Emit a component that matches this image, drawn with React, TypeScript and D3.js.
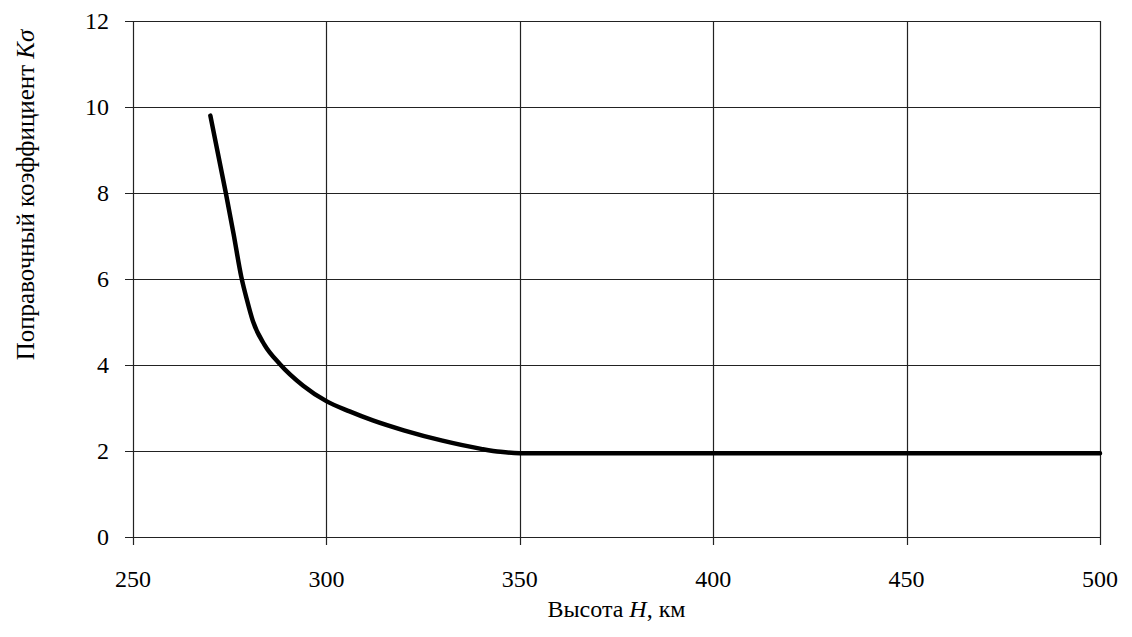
import React, { useEffect, useRef } from "react"
import * as d3 from "d3"

// высота, км
const heights = [270, 274, 276, 278, 279.5, 281, 284, 288, 294, 300, 306, 312, 320, 330, 340, 345, 350, 400, 450, 500]
// поправочный коэффициент
const coefs = [9.8, 8.0, 7.05, 6.05, 5.5, 5.02, 4.47, 4.02, 3.52, 3.16, 2.92, 2.71, 2.48, 2.24, 2.05, 1.98, 1.95, 1.95, 1.95, 1.95]

const xTicks = [250, 300, 350, 400, 450, 500]
const yTicks = [0, 2, 4, 6, 8, 10, 12]

export default function App() {
    const svgRef = useRef<SVGSVGElement>(null)

    useEffect(() => {
        const width = 1132
        const height = 637
        const margin = { top: 21, left: 133 }
        const innerWidth = 1100 - margin.left
        const innerHeight = 537 - margin.top

        const svg = d3.select(svgRef.current)
        svg.selectAll("*").remove()
        svg.attr("width", width).attr("height", height)

        const g = svg.append("g").attr("transform", `translate(${margin.left},${margin.top})`)

        const x = d3.scaleLinear().domain([250, 500]).range([0, innerWidth])
        const y = d3.scaleLinear().domain([0, 12]).range([innerHeight, 0])

        // сетка
        g.selectAll(".hgrid")
            .data(yTicks)
            .join("line")
            .attr("x1", -8)
            .attr("x2", innerWidth)
            .attr("y1", (d) => Math.round(y(d)) + 0.5)
            .attr("y2", (d) => Math.round(y(d)) + 0.5)
            .attr("stroke", "#222")
            .attr("stroke-width", 1.2)

        g.selectAll(".vgrid")
            .data(xTicks)
            .join("line")
            .attr("x1", (d) => Math.round(x(d)) + 0.5)
            .attr("x2", (d) => Math.round(x(d)) + 0.5)
            .attr("y1", 0)
            .attr("y2", innerHeight + 8)
            .attr("stroke", "#222")
            .attr("stroke-width", 1.2)

        const font = "'Liberation Serif', 'DejaVu Serif', 'Times New Roman', serif"

        g.selectAll(".ylab")
            .data(yTicks)
            .join("text")
            .attr("x", -24)
            .attr("y", (d) => y(d))
            .attr("dy", "0.35em")
            .attr("text-anchor", "end")
            .style("font-family", font)
            .style("font-size", "24px")
            .text((d) => d)

        g.selectAll(".xlab")
            .data(xTicks)
            .join("text")
            .attr("x", (d) => x(d))
            .attr("y", innerHeight + 50)
            .attr("text-anchor", "middle")
            .style("font-family", font)
            .style("font-size", "24px")
            .text((d) => d)

        const line = d3
            .line<number>()
            .x((d, i) => x(heights[i]))
            .y((d) => y(d))
            .curve(d3.curveMonotoneX)

        g.append("path")
            .datum(coefs)
            .attr("d", line)
            .attr("fill", "none")
            .attr("stroke", "#000")
            .attr("stroke-width", 4.5)
            .attr("stroke-linecap", "round")

        const xt = svg
            .append("text")
            .attr("x", margin.left + innerWidth / 2)
            .attr("y", 617)
            .attr("text-anchor", "middle")
            .style("font-family", font)
            .style("font-size", "24px")
        xt.append("tspan").text("Высота ")
        xt.append("tspan").style("font-style", "italic").text("H")
        xt.append("tspan").text(", км")

        const yt = svg
            .append("text")
            .attr("transform", `translate(34,${margin.top + innerHeight / 2 - 84}) rotate(-90)`)
            .attr("text-anchor", "middle")
            .style("font-family", font)
            .style("font-size", "25px")
        yt.append("tspan").text("Поправочный коэффициент ")
        yt.append("tspan").style("font-style", "italic").text("Kσ")
    }, [])

    return (
        <div style={{ position: "absolute", left: 0, top: 0, background: "#fff" }}>
            <svg ref={svgRef} style={{ display: "block" }} />
        </div>
    )
}
